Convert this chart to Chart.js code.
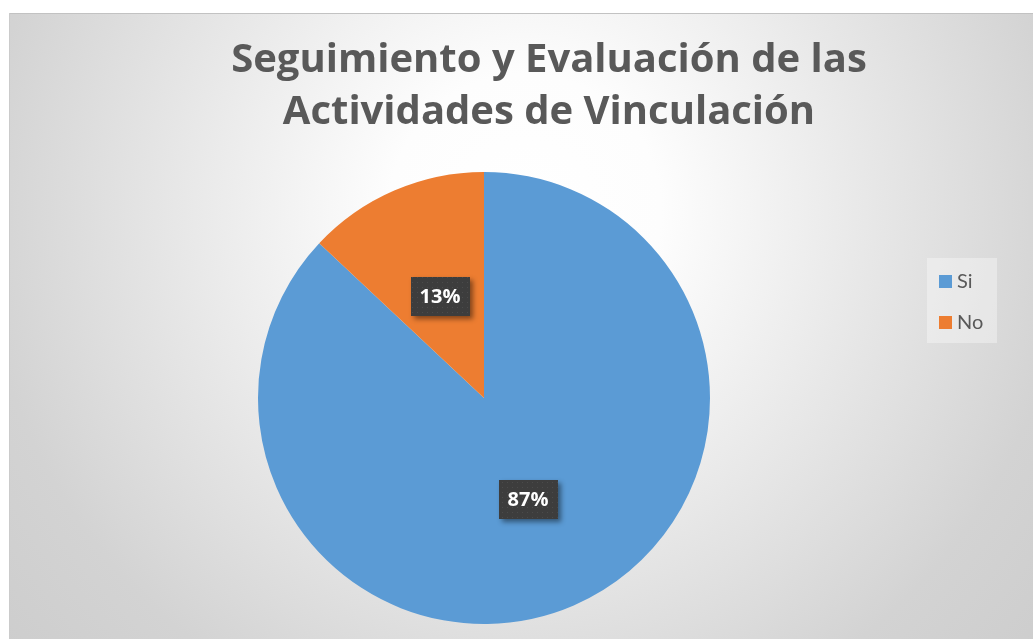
<!DOCTYPE html>
<html>
<head>
<meta charset="utf-8">
<script src="https://cdn.jsdelivr.net/npm/chart.js@4.4.1/dist/chart.umd.min.js"></script>
<style>
    html, body { margin: 0; padding: 0; background: #ffffff; }
    #wrap { width: 1033px; height: 639px; }
</style>
</head>
<body>
<div id="wrap"><canvas id="pieChart"></canvas></div>
<script>
// Chart data
const titleLines = ['Seguimiento y Evaluación de las', 'Actividades de Vinculación'];
const categories = ['Si', 'No'];
const values = [87, 13];
const sliceColors = ['#5B9BD5', '#ED7D31'];

const total = values.reduce((acc, v) => acc + v, 0);
const percentText = v => Math.round(v / total * 100) + '%';

// Dotted fill used by the data label boxes
const dots = document.createElement('canvas');
dots.width = 5;
dots.height = 5;
const dctx = dots.getContext('2d');
dctx.fillStyle = '#3d3d3d';
dctx.fillRect(0, 0, 5, 5);
dctx.fillStyle = '#4b4b4b';
dctx.fillRect(2, 2, 1, 1);

// Background with a soft radial gradient
const backgroundPlugin = {
    id: 'background',
    beforeDraw(chart) {
        const ctx = chart.ctx;
        const w = chart.width, h = chart.height;
        ctx.save();
        const g = ctx.createRadialGradient(525, 210, 0, 525, 210, 680);
        g.addColorStop(0, '#ffffff');
        g.addColorStop(0.2, '#fdfdfd');
        g.addColorStop(0.8, '#d3d3d3');
        g.addColorStop(1, '#cdcdcd');
        ctx.fillStyle = g;
        ctx.fillRect(9, 13, w - 9, h - 13);
        ctx.fillStyle = '#c2c2c2';
        ctx.fillRect(9, 13, w - 9, 1);
        ctx.fillStyle = '#cbcbcb';
        ctx.fillRect(9, 13, 1, h - 13);
        ctx.restore();
    },
    afterLayout(chart) {
        // title sits a little right of the pie
        chart.titleBlock.left += 65;
        chart.titleBlock.right += 65;
    }
};

// Percent labels in dark boxes
const labelPlugin = {
    id: 'sliceLabels',
    afterDatasetsDraw(chart) {
        const ctx = chart.ctx;
        const meta = chart.getDatasetMeta(0);
        meta.data.forEach((arc, i) => {
            const p = arc.getProps(['x', 'y', 'startAngle', 'endAngle', 'outerRadius'], true);
            const mid = (p.startAngle + p.endAngle) / 2;
            const r = p.outerRadius * 0.49;
            const cx = p.x + Math.cos(mid) * r;
            const cy = p.y + Math.sin(mid) * r;
            const text = percentText(values[i]);
            ctx.save();
            ctx.font = 'bold 20px "Open Sans"';
            const bw = ctx.measureText(text).width + 18;
            const bh = 39;
            const bx = Math.round(cx - bw / 2), by = Math.round(cy - bh / 2);
            ctx.shadowColor = 'rgba(0,0,0,0.45)';
            ctx.shadowBlur = 5;
            ctx.shadowOffsetX = 3;
            ctx.shadowOffsetY = 3;
            ctx.fillStyle = '#3d3d3d';
            ctx.fillRect(bx, by, bw, bh);
            ctx.shadowColor = 'transparent';
            ctx.fillStyle = ctx.createPattern(dots, 'repeat');
            ctx.fillRect(bx, by, bw, bh);
            ctx.fillStyle = '#ffffff';
            ctx.textAlign = 'center';
            ctx.textBaseline = 'middle';
            ctx.fillText(text, cx, cy + 1);
            ctx.restore();
        });
    }
};

// Legend box on the right
const legendPlugin = {
    id: 'sideLegend',
    afterDraw(chart) {
        const ctx = chart.ctx;
        ctx.save();
        ctx.fillStyle = 'rgba(255,255,255,0.35)';
        ctx.fillRect(927, 258, 70, 85);
        ctx.font = '20px Lato';
        ctx.textBaseline = 'middle';
        categories.forEach((c, i) => {
            const y = 281 + i * 41;
            ctx.fillStyle = sliceColors[i];
            ctx.fillRect(939, y - 6, 13, 13);
            ctx.fillStyle = '#595959';
            ctx.fillText(c, 957, y + 1);
        });
        ctx.restore();
    }
};

const ctx = document.getElementById('pieChart').getContext('2d');
const pieChart = new Chart(ctx, {
    type: 'pie',
    data: {
        labels: categories,
        datasets: [{
            data: values,
            backgroundColor: sliceColors,
            borderWidth: 0
        }]
    },
    options: {
        responsive: true,
        maintainAspectRatio: false,
        animation: false,
        layout: {
            padding: { top: 13, left: 20, right: 85, bottom: 15 }
        },
        plugins: {
            legend: { display: false },
            tooltip: { enabled: false },
            title: {
                display: true,
                text: titleLines,
                color: '#595959',
                font: { family: 'Open Sans', size: 40, weight: 'bold', lineHeight: 1.3125 },
                padding: { top: 21, bottom: 33 }
            }
        }
    },
    plugins: [backgroundPlugin, labelPlugin, legendPlugin]
});
</script>
</body>
</html>
